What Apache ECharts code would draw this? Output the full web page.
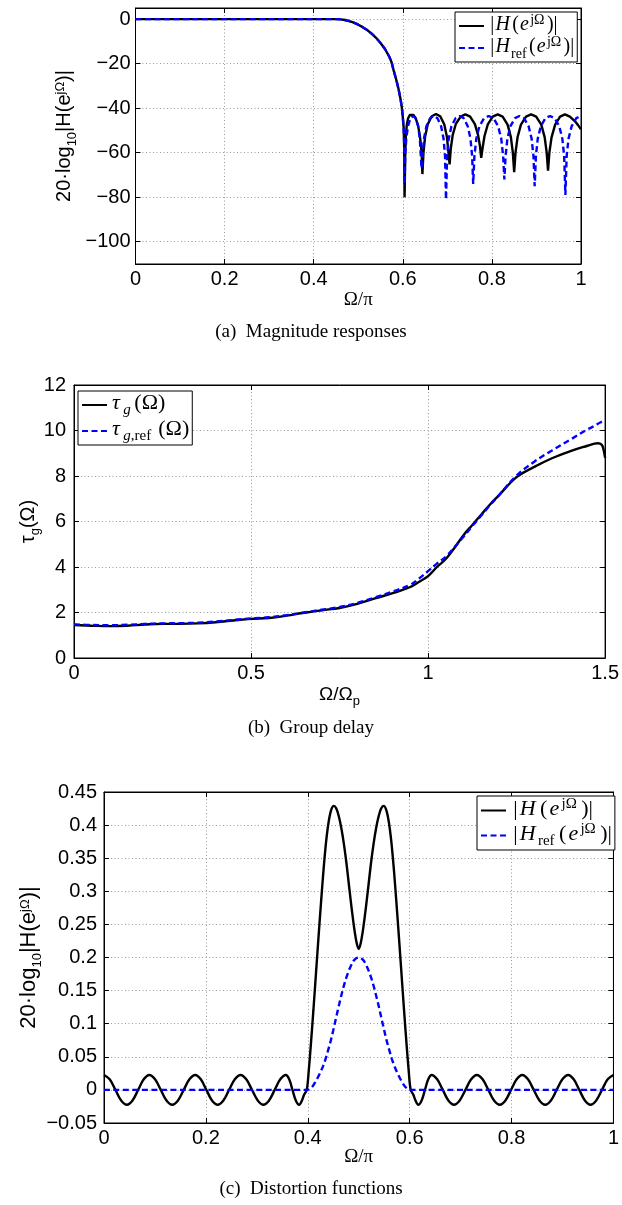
<!DOCTYPE html>
<html><head><meta charset="utf-8">
<script src="https://cdn.jsdelivr.net/npm/echarts@6/dist/echarts.min.js"></script>
<style>html,body{margin:0;padding:0;background:#fff}#c{width:622px;height:1205px}</style>
</head><body><div id="c"></div>
<script>
// ---------- Panel (a): magnitude responses (dB) ----------
const magPass = [[0,0],[0.05,0],[0.1,0],[0.15,0],[0.2,0],[0.25,0],[0.3,0],[0.35,0],[0.4,0],[0.44,0],[0.45,0],[0.46,-0.1],[0.47,-0.4],[0.48,-0.9],[0.49,-1.6],[0.5,-2.5],[0.51,-3.6],[0.52,-4.9],[0.53,-6.5],[0.54,-8.4],[0.55,-10.7],[0.56,-13.4],[0.57,-17],[0.575,-19.5],[0.58,-23.5],[0.585,-27],[0.59,-31],[0.595,-36],[0.598,-40],[0.6,-44],[0.602,-49],[0.603,-56]];
const magHStop = [[0.604,-80],[0.6055,-60],[0.607,-52],[0.609,-47.5],[0.612,-44.5],[0.616,-43],[0.62,-42.6],[0.624,-43],[0.629,-44.6],[0.634,-47.6],[0.638,-52],[0.641,-57],[0.643,-63],[0.644,-69.6],
 [0.6464,-60],[0.65,-52.8],[0.656,-47.2],[0.665,-43.6],[0.6745,-42.6],[0.684,-43.6],[0.693,-47.2],[0.699,-52.8],[0.7026,-60],[0.705,-65.3],
 [0.7078,-58],[0.7121,-52],[0.7192,-47],[0.7299,-43.8],[0.7405,-42.8],[0.7512,-43.8],[0.7618,-47.2],[0.7689,-52],[0.7732,-57],[0.776,-62.3],
 [0.779,-58],[0.7834,-52.5],[0.7908,-47.3],[0.8019,-43.8],[0.813,-42.8],[0.8241,-43.8],[0.8352,-47.4],[0.8426,-53],[0.847,-60],[0.85,-68.7],
 [0.853,-60],[0.8576,-53],[0.8652,-47.4],[0.8766,-43.8],[0.888,-42.8],[0.8994,-43.8],[0.9108,-47.4],[0.9184,-53],[0.923,-60],[0.926,-68.1],
 [0.929,-60],[0.934,-53],[0.942,-47.4],[0.953,-43.8],[0.964,-42.8],[0.975,-43.8],[0.986,-45.8],[0.993,-47.5],[1.0,-49.5]];
const magRefStop = [[0.604,-74],
 [0.6055,-61.5],[0.6078,-53.7],[0.6116,-48.1],[0.6173,-44.5],[0.623,-43.5],[0.6287,-44.5],[0.6344,-48.1],[0.6382,-53.7],[0.6405,-61.5],[0.642,-67],
 [0.6442,-61.5],[0.6475,-53.7],[0.653,-48.1],[0.6613,-44.5],[0.6695,-43.5],[0.6778,-44.5],[0.686,-48.1],[0.6915,-53.7],[0.6948,-61.5],[0.697,-81],
 [0.6994,-61.5],[0.7031,-53.7],[0.7092,-48.1],[0.7184,-44.5],[0.7275,-43.5],[0.7367,-44.5],[0.7458,-48.1],[0.7519,-53.7],[0.7556,-61.5],[0.758,-74],
 [0.7608,-61.5],[0.765,-53.7],[0.772,-48.1],[0.7825,-44.5],[0.793,-43.5],[0.8035,-44.5],[0.814,-48.1],[0.821,-53.7],[0.8252,-61.5],[0.828,-72],
 [0.8307,-61.5],[0.8348,-53.7],[0.8416,-48.1],[0.8518,-44.5],[0.862,-43.5],[0.8722,-44.5],[0.8824,-48.1],[0.8892,-53.7],[0.8933,-61.5],[0.896,-75],
 [0.8988,-61.5],[0.9029,-53.7],[0.9098,-48.1],[0.9202,-44.5],[0.9305,-43.5],[0.9409,-44.5],[0.9512,-48.1],[0.9581,-53.7],[0.9622,-61.5],[0.965,-79],
 [0.9678,-61.5],[0.972,-53.7],[0.979,-48.1],[0.9895,-44.5],[1.0,-43.5]];

// ---------- Panel (b): group delay ----------
const tauX   = [0,0.05,0.1,0.15,0.2,0.25,0.3,0.35,0.4,0.45,0.5,0.55,0.6,0.65,0.7,0.75,0.8,0.85,0.9,0.95,0.975,1.0,1.025,1.05,1.075,1.1,1.125,1.15,1.175,1.2,1.25,1.3,1.35,1.4,1.45,1.47,1.48,1.49,1.495,1.5];
const tauH   = [1.45,1.42,1.40,1.42,1.47,1.50,1.50,1.52,1.57,1.65,1.72,1.76,1.86,1.99,2.10,2.20,2.38,2.62,2.85,3.12,3.35,3.60,4.00,4.35,4.85,5.40,5.85,6.30,6.75,7.15,7.95,8.40,8.78,9.08,9.33,9.42,9.44,9.38,9.20,8.80];
const tauRef = [1.47,1.45,1.44,1.46,1.50,1.52,1.53,1.55,1.60,1.67,1.74,1.79,1.88,2.00,2.12,2.24,2.42,2.66,2.92,3.22,3.50,3.82,4.15,4.45,4.88,5.33,5.80,6.26,6.72,7.15,8.02,8.63,9.12,9.58,10.05,10.2,10.3,10.38,10.42,10.46];

// ---------- Panel (c): distortion functions ----------
const distH = [[0,0.0225],[0.0112,0.016],[0.0225,0],[0.0337,-0.016],[0.045,-0.0225],[0.056,-0.016],[0.067,0],[0.078,0.016],
 [0.089,0.0225],[0.1002,0.016],[0.1115,0],[0.1227,-0.016],[0.134,-0.0225],[0.1452,-0.016],[0.1565,0],[0.1677,0.016],
 [0.179,0.0225],[0.19,0.016],[0.201,0],[0.212,-0.016],[0.223,-0.0225],[0.2343,-0.016],[0.2455,0],[0.2568,0.016],
 [0.268,0.0225],[0.2793,0.016],[0.2905,0],[0.3018,-0.016],[0.313,-0.0225],[0.324,-0.016],[0.335,0],[0.346,0.016],
 [0.357,0.0225],[0.3635,0.016],[0.37,0],[0.3765,-0.016],[0.383,-0.0225],[0.388,-0.017],[0.393,-0.007],[0.398,0],
 [0.402,0.03],[0.406,0.068],[0.411,0.12],[0.416,0.175],[0.421,0.23],[0.426,0.283],[0.431,0.333],[0.436,0.375],[0.441,0.405],[0.446,0.423],
 [0.451,0.429],[0.456,0.425],[0.461,0.413],[0.466,0.395],[0.471,0.371],[0.476,0.342],[0.481,0.308],[0.486,0.275],[0.491,0.245],[0.496,0.222],[0.5,0.213],
 [0.504,0.222],[0.509,0.245],[0.514,0.275],[0.519,0.308],[0.524,0.342],[0.529,0.371],[0.534,0.395],[0.539,0.413],[0.544,0.425],[0.549,0.429],
 [0.554,0.423],[0.559,0.405],[0.564,0.375],[0.569,0.333],[0.574,0.283],[0.579,0.23],[0.584,0.175],[0.589,0.12],[0.594,0.068],[0.598,0.03],
 [0.602,0],[0.607,-0.007],[0.612,-0.017],[0.617,-0.0225],[0.6235,-0.016],[0.63,0],[0.6365,0.016],[0.643,0.0225],
 [0.654,0.016],[0.665,0],[0.676,-0.016],[0.687,-0.0225],[0.6982,-0.016],[0.7095,0],[0.7207,0.016],[0.732,0.0225],
 [0.7432,0.016],[0.7545,0],[0.7657,-0.016],[0.777,-0.0225],[0.788,-0.016],[0.799,0],[0.81,0.016],[0.821,0.0225],
 [0.8323,0.016],[0.8435,0],[0.8548,-0.016],[0.866,-0.0225],[0.8773,-0.016],[0.8885,0],[0.8998,0.016],[0.911,0.0225],
 [0.922,0.016],[0.933,0],[0.944,-0.016],[0.955,-0.0225],[0.9662,-0.016],[0.9775,0],[0.9887,0.016],[1.0,0.0225]];
const distRef = [[0,0],[0.4,0],[0.405,0.002],[0.41,0.006],[0.415,0.012],[0.42,0.019],[0.425,0.027],[0.43,0.036],[0.435,0.047],[0.44,0.06],[0.445,0.074],
 [0.45,0.09],[0.455,0.107],[0.46,0.124],[0.465,0.14],[0.47,0.155],[0.475,0.168],[0.48,0.179],[0.485,0.188],[0.49,0.195],[0.495,0.199],[0.5,0.2],
 [0.505,0.199],[0.51,0.195],[0.515,0.188],[0.52,0.179],[0.525,0.168],[0.53,0.155],[0.535,0.14],[0.54,0.124],[0.545,0.107],[0.55,0.09],
 [0.555,0.074],[0.56,0.06],[0.565,0.047],[0.57,0.036],[0.575,0.027],[0.58,0.019],[0.585,0.012],[0.59,0.006],[0.595,0.002],[0.6,0],[1.0,0]];

const captions = ['(a)  Magnitude responses', '(b)  Group delay', '(c)  Distortion functions'];

// ---------- styling helpers ----------
const SANS = '"Liberation Sans", Arial, Helvetica, sans-serif';
const SERIF = '"Liberation Serif", "DejaVu Serif", serif';
const fmt = v => String(Math.round(v * 1000) / 1000).replace('-', '\u2212');
function rich(fam, size, small, hp) {
  const b = {fontFamily: fam, color: '#000', verticalAlign: 'bottom'};
  hp = hp || 0;
  return {
    n:    Object.assign({}, b, {fontSize: size, padding: [0,hp,4,hp]}),
    i:    Object.assign({}, b, {fontSize: size, fontStyle: 'italic', padding: [0,hp,4,0]}),
    sup:  Object.assign({}, b, {fontSize: small, padding: [0,hp,12,0]}),
    sub:  Object.assign({}, b, {fontSize: small, padding: [0,hp,0,0]}),
    subi: Object.assign({}, b, {fontSize: small, fontStyle: 'italic', padding: [0,0,0,0]})
  };
}
const legendText = {
  magH: '{n||}{i|H}{n|(}{i|e}{sup|jΩ}{n|)|}',
  magRef: '{n||}{i|H}{sub|ref}{n|(}{i|e}{sup|jΩ}{n|)|}',
  tauH: '{i|τ}{subi|g}{n|(Ω)}',
  tauRef: '{i|τ}{subi|g}{sub|,ref}{n|(Ω)}',
  distH: '{n||}{i|H}{n|(}{i|e}{sup|jΩ}{n|)|}',
  distRef: '{n||}{i|H}{sub|ref}{n|(}{i|e}{sup|jΩ}{n|)|}'
};

const grids = [
  {left: 135.5, top: 8, width: 445.5, height: 256},
  {left: 74, top: 385, width: 533, height: 273},
  {left: 104, top: 792, width: 517, height: 331}
];
const xCfg = [{min: 0, max: 1, interval: 0.2}, {min: 0, max: 1.5, interval: 0.5}, {min: 0, max: 1, interval: 0.2}];
const yCfg = [{min: -110, max: 5, splitNumber: 5}, {min: 0, max: 12, interval: 2}, {min: -0.05, max: 0.45, interval: 0.05}];
const xNames = ['{n|Ω/π}', '{n|Ω/Ω}{sub|p}', '{n|Ω/π}'];
const xNameFam = [SERIF, SANS, SERIF];
const xNameGap = [27, 27, 25];
const yNames = ['{n|20·log}{sub|10}{n||H(e}{sup|jΩ}{n|)|}', '{n|τ}{sub|g}{n|(Ω)}', '{n|20·log}{sub|10}{n||H(e}{sup|jΩ}{n|)|}'];
const yNameGap = [57, 32, 60];
const yNameSize = [20, 20, 22];
const yLabelMargin = [5, 8, 7];

const gridLine = {show: true, lineStyle: {color: '#9a9a9a', width: 1, type: [1, 2.5]}};
const xAxis = [], yAxis = [];
for (let k = 0; k < 3; k++) {
  xAxis.push(Object.assign({
    type: 'value', gridIndex: k, position: 'bottom',
    axisLine: {show: true, onZero: false, lineStyle: {color: '#000', width: 1}},
    axisTick: {show: true, inside: true, length: 5, lineStyle: {color: '#000'}},
    axisLabel: {color: '#000', fontFamily: SANS, fontSize: 20, margin: 5, formatter: fmt},
    splitLine: gridLine,
    name: xNames[k], nameLocation: 'middle', nameGap: xNameGap[k], nameMoveOverlap: false,
    nameTextStyle: {rich: rich(xNameFam[k], 19, 13)}
  }, xCfg[k]));
  yAxis.push(Object.assign({
    type: 'value', gridIndex: k, position: 'left',
    axisLine: {show: true, onZero: false, lineStyle: {color: '#000', width: 1}},
    axisTick: {show: true, inside: true, length: 5, lineStyle: {color: '#000'}},
    axisLabel: {color: '#000', fontFamily: SANS, fontSize: 20, margin: yLabelMargin[k], formatter: fmt, showMinLabel: k !== 0, showMaxLabel: k !== 0},
    splitLine: gridLine,
    name: yNames[k], nameLocation: 'middle', nameGap: yNameGap[k], nameRotate: 90, nameMoveOverlap: false,
    nameTextStyle: {rich: rich(SANS, yNameSize[k], 13)}
  }, yCfg[k]));
}
for (let k = 0; k < 3; k++) {
  xAxis.push(Object.assign({
    type: 'value', gridIndex: k, position: 'top',
    axisLine: {show: true, onZero: false, lineStyle: {color: '#000', width: 1}},
    axisTick: {show: true, inside: true, length: 5, lineStyle: {color: '#000'}},
    axisLabel: {show: false}, splitLine: {show: false}
  }, xCfg[k]));
  yAxis.push(Object.assign({
    type: 'value', gridIndex: k, position: 'right',
    axisLine: {show: true, onZero: false, lineStyle: {color: '#000', width: 1}},
    axisTick: {show: true, inside: true, length: 5, lineStyle: {color: '#000'}},
    axisLabel: {show: false}, splitLine: {show: false}
  }, yCfg[k]));
}

const solid = {color: '#000', width: 2.4, type: 'solid'};
const dashed = {color: '#0000ff', width: 2.4, type: [6, 3.5]};
function line(name, k, data, style, smooth) {
  return {name, type: 'line', xAxisIndex: k, yAxisIndex: k, data, symbol: 'none', smooth: smooth || false,
          lineStyle: style, itemStyle: {color: style.color}, animation: false, silent: true};
}
const zip = (xs, ys) => xs.map((x, i) => [x, ys[i]]);

const series = [
  line('magH', 0, magPass.concat(magHStop), solid),
  line('magRef', 0, magPass.concat(magRefStop), dashed),
  line('tauH', 1, zip(tauX, tauH), solid, 0.4),
  line('tauRef', 1, zip(tauX, tauRef), dashed, 0.4),
  line('distH', 2, distH, solid, 0.35),
  line('distRef', 2, distRef, dashed, 0.35)
];

function legend(names, left, top, size, gap, hp) {
  return {
    data: names, orient: 'vertical', left, top, itemWidth: 25, itemHeight: 12, itemGap: gap,
    padding: [1, 3, 1, 3], borderColor: '#000', borderWidth: 1, backgroundColor: '#fff',
    selectedMode: false, formatter: n => legendText[n],
    itemStyle: {opacity: 0, borderWidth: 0},
    textStyle: {rich: rich(SERIF, size, Math.round(size * 0.68), hp)}
  };
}

const chart = echarts.init(document.getElementById('c'), null, {renderer: 'canvas'});
chart.setOption({
  backgroundColor: '#fff',
  animation: false,
  grid: grids.map(g => Object.assign({show: true, borderColor: '#000', borderWidth: 1, backgroundColor: 'transparent'}, g)),
  xAxis, yAxis, series,
  legend: [
    legend(['magH', 'magRef'], 455, 12, 20, 0, 1.2),
    legend(['tauH', 'tauRef'], 78, 391, 22, 0, 3.5),
    legend(['distH', 'distRef'], 477, 796, 22, 2, 2.2)
  ],
  title: captions.map((t, k) => ({
    text: t, left: 'center', top: [323, 719, 1180][k], padding: 0,
    textStyle: {fontFamily: SERIF, fontSize: 19, fontWeight: 'normal', color: '#000'}
  }))
});
</script></body></html>
